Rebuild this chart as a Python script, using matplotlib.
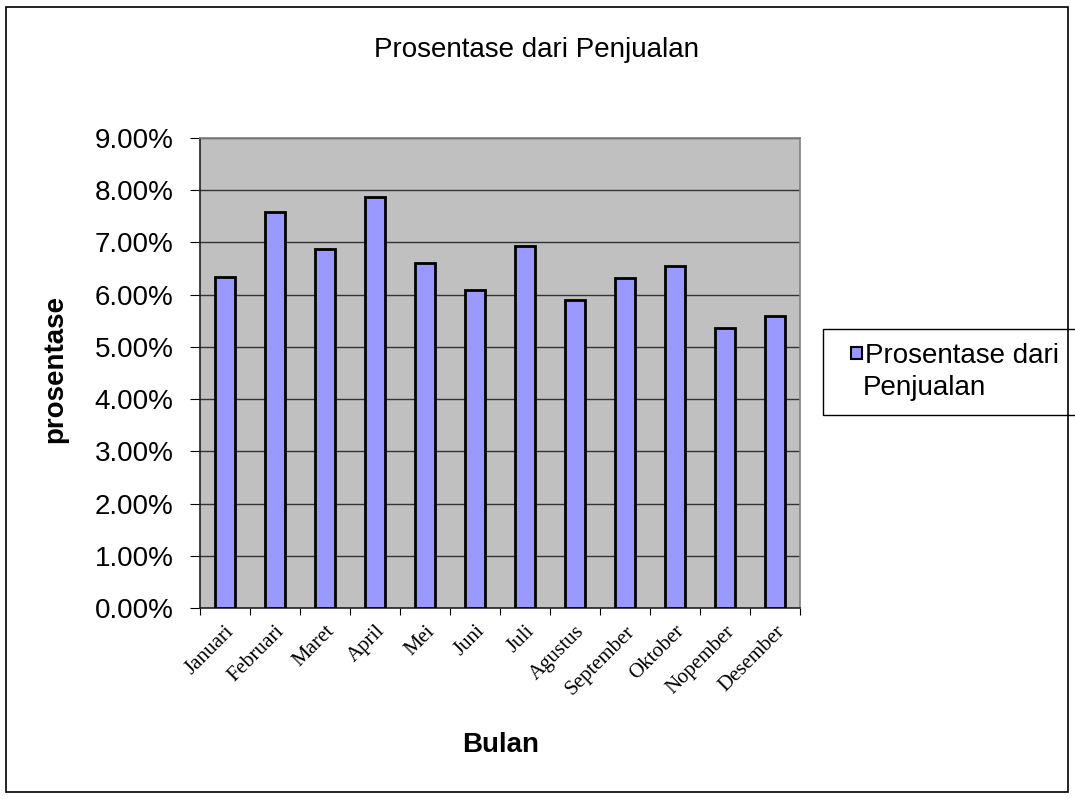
import matplotlib.pyplot as plt
from matplotlib.ticker import FuncFormatter
import numpy as np

plt.rcParams['font.family'] = ['Liberation Sans', 'DejaVu Sans']

bulan = ['Januari', 'Februari', 'Maret', 'April', 'Mei', 'Juni', 'Juli',
         'Agustus', 'September', 'Oktober', 'Nopember', 'Desember']
prosentase = [6.33, 7.58, 6.88, 7.87, 6.61, 6.09, 6.93, 5.89, 6.32, 6.54, 5.36, 5.60]

W, H = 1075, 799
fig = plt.figure(figsize=(W / 100, H / 100), dpi=100)
# bingkai luar
fig.patches.append(plt.Rectangle((6 / W, 7 / H), 1062 / W, 785 / H,
                                 transform=fig.transFigure, fill=False,
                                 edgecolor='black', linewidth=1.2))

ax = fig.add_axes([200 / W, 1 - 608 / H, 600 / W, 470 / H])
ax.set_facecolor('#C0C0C0')

x = np.arange(len(bulan))
ax.bar(x, prosentase, width=0.4, color='#9999FF', edgecolor='black',
       linewidth=2, label='Prosentase dari', zorder=3)

ax.set_xlim(-0.5, len(bulan) - 0.5)
ax.set_ylim(0, 9)
ax.set_yticks(np.arange(0, 9.5, 1))
ax.yaxis.set_major_formatter(FuncFormatter(lambda v, p: '%.2f%%' % v))
ax.grid(axis='y', color='#333333', linewidth=1, zorder=1)
ax.tick_params(axis='y', labelsize=20, length=7, direction='out', pad=12)

# tick di batas kategori, label di tengah
ax.set_xticks(np.arange(-0.5, len(bulan), 1))
ax.set_xticklabels([])
ax.set_xticks(x, minor=True)
ax.set_xticklabels(bulan, minor=True, rotation=45, ha='right',
                   rotation_mode='anchor', family='Liberation Serif', fontsize=15)
ax.tick_params(axis='x', which='major', length=5, direction='out')
ax.tick_params(axis='x', which='minor', length=0, pad=10)

for s in ['top', 'right']:
    ax.spines[s].set_color('#808080')
    ax.spines[s].set_linewidth(1.2)
for s in ['left', 'bottom']:
    ax.spines[s].set_color('#222222')
    ax.spines[s].set_linewidth(1.2)

fig.text(536 / W, 1 - 50 / H, 'Prosentase dari Penjualan', ha='center',
         va='center', fontsize=20)
fig.text(501 / W, 1 - 745 / H, 'Bulan', ha='center', va='center',
         fontsize=20, fontweight='bold')
fig.text(55 / W, 1 - 369 / H, 'prosentase', ha='center', va='center',
         rotation=90, fontsize=20, fontweight='bold')

# legenda
fig.patches.append(plt.Rectangle((823 / W, 1 - 415 / H), 260 / W, 86 / H,
                                 transform=fig.transFigure, fill=False,
                                 edgecolor='black', linewidth=1))
leg = fig.legend(loc='upper left', bbox_to_anchor=(851 / W, 1 - 343 / H),
                 frameon=False, handlelength=0.4, handleheight=0.28,
                 handletextpad=0.12, borderpad=0, borderaxespad=0,
                 prop={'size': 20})
for h in leg.legend_handles:
    h.set_linewidth(1.5)
fig.text(863 / W, 1 - 395 / H, 'Penjualan', ha='left', va='baseline', fontsize=20)

plt.savefig('out.png', dpi=100)
